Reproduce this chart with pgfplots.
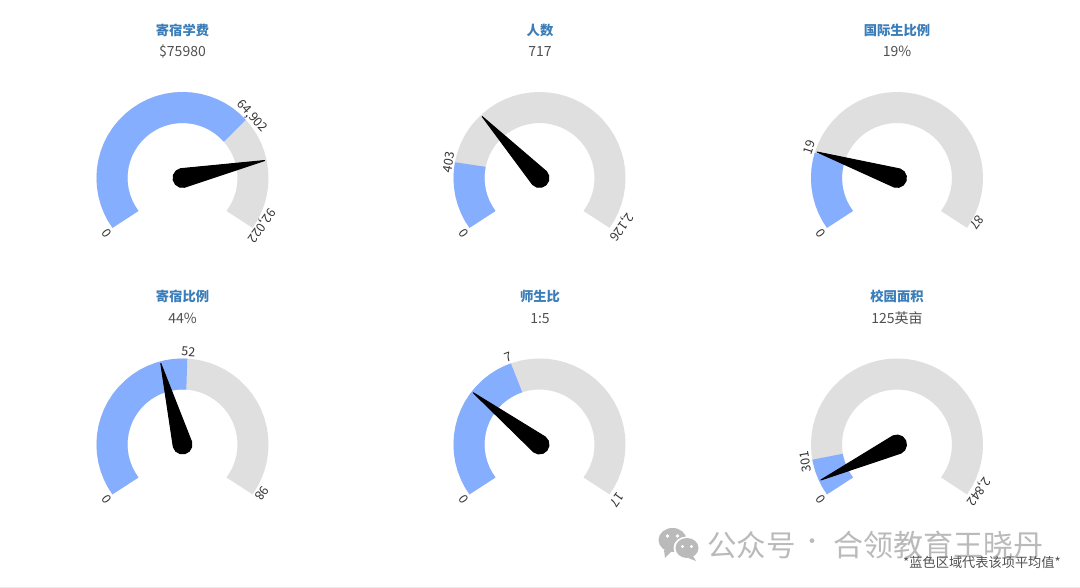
\documentclass[border=0pt]{standalone}
\usepackage{fontspec}
\setmainfont{Noto Sans CJK SC}
\usepackage{pgfplots}
\usepackage{pgfplotstable}
\pgfplotsset{compat=1.18}

\definecolor{band}{HTML}{DFDFDF}
\definecolor{avg}{HTML}{85AEFF}
\definecolor{ttl}{HTML}{3B7DB8}
\definecolor{val}{HTML}{505050}
\definecolor{wm}{HTML}{BABABA}

% full gauge track: angle, radius
\pgfplotstableread{
216 70.5
210 70.5
204 70.5
198 70.5
192 70.5
186 70.5
180 70.5
174 70.5
168 70.5
162 70.5
156 70.5
150 70.5
144 70.5
138 70.5
132 70.5
126 70.5
120 70.5
114 70.5
108 70.5
102 70.5
96 70.5
90 70.5
84 70.5
78 70.5
72 70.5
66 70.5
60 70.5
54 70.5
48 70.5
42 70.5
36 70.5
30 70.5
24 70.5
18 70.5
12 70.5
6 70.5
0 70.5
-6 70.5
-12 70.5
-18 70.5
-24 70.5
-30 70.5
-36 70.5
}\track

\pgfplotsset{
  gauge/.style={hide axis, scale only axis, width=300pt, height=300pt,
    xmin=-150, xmax=150, ymin=-150, ymax=150, clip=false, anchor=center},
  trackline/.style={no marks, data cs=polar, line width=31pt, line cap=butt, line join=round},
  needle/.style={no marks, data cs=polar, fill=black, draw=black, line width=1pt, line join=round},
}
% placement angle, radius, rotation, text
\newcommand{\glabel}[4]{\node[rotate=#3, font=\fontsize{12.5}{13}\selectfont, text=black!80] at ([shift={(#1:#2pt)}]axis cs:0,0) {#4};}

\begin{document}
\begin{tikzpicture}[x=1pt, y=1pt]
\path[use as bounding box, fill=white] (0,0) rectangle (1080,588);
\draw[black!7, line width=0.8pt] (0,0.6) -- (1080,0.6);

\begin{scope}[every node/.style={anchor=center}]
\newcommand{\ttlnode}[3]{\node[text=ttl, font=\fontsize{13.3}{14}\selectfont\bfseries] at (#1,#2) {#3};}
\newcommand{\valnode}[3]{\node[text=val, font=\fontsize{14}{15}\selectfont] at (#1,#2) {#3};}
\ttlnode{182.5}{558}{寄宿学费}
\valnode{182.5}{536.5}{\$75980}
\ttlnode{540}{558}{人数}
\valnode{540}{536.5}{717}
\ttlnode{897}{558}{国际生比例}
\valnode{897}{536.5}{19\%}
\ttlnode{182.5}{291.5}{寄宿比例}
\valnode{182.5}{269.5}{44\%}
\ttlnode{540}{291.5}{师生比}
\valnode{540}{269.5}{1:5}
\ttlnode{897}{291.5}{校园面积}
\valnode{897}{269.5}{125英亩}
\end{scope}

% row 1
\begin{axis}[gauge, at={(182.5,410)}]
\addplot[trackline, band] table[x index=0, y index=1] {\track};
\addplot[trackline, avg] coordinates {(216,70.5) (210,70.5) (204,70.5) (198,70.5) (192,70.5) (186,70.5) (180,70.5) (174,70.5) (168,70.5) (162,70.5) (156,70.5) (150,70.5) (144,70.5) (138,70.5) (132,70.5) (126,70.5) (120,70.5) (114,70.5) (108,70.5) (102,70.5) (96,70.5) (90,70.5) (84,70.5) (78,70.5) (72,70.5) (66,70.5) (60,70.5) (54,70.5) (48,70.5) (42,70.5)};
\addplot[needle] coordinates {(12,84) (102,9.5) (132,9.5) (162,9.5) (192,9.5) (222,9.5) (252,9.5) (282,9.5)} -- cycle;
\glabel{216}{94}{126}{0}
\glabel{41.5}{92.5}{-48}{64,902}
\glabel{-31}{92}{-126}{92,022}
\end{axis}

\begin{axis}[gauge, at={(539.5,410)}]
\addplot[trackline, band] table[x index=0, y index=1] {\track};
\addplot[trackline, avg] coordinates {(216,70.5) (210,70.5) (204,70.5) (198,70.5) (192,70.5) (186,70.5) (180,70.5) (174,70.5) (169,70.5)};
\addplot[needle] coordinates {(133,84) (223,9.5) (253,9.5) (283,9.5) (313,9.5) (343,9.5) (13,9.5) (43,9.5)} -- cycle;
\glabel{216}{94}{126}{0}
\glabel{170}{92}{79}{403}
\glabel{-31}{95}{-126}{2,126}
\end{axis}

\begin{axis}[gauge, at={(897,410)}]
\addplot[trackline, band] table[x index=0, y index=1] {\track};
\addplot[trackline, avg] coordinates {(216,70.5) (210,70.5) (204,70.5) (198,70.5) (192,70.5) (186,70.5) (180,70.5) (174,70.5) (168,70.5) (162.5,70.5)};
\addplot[needle] coordinates {(162,84) (252,9.5) (282,9.5) (312,9.5) (342,9.5) (12,9.5) (42,9.5) (72,9.5)} -- cycle;
\glabel{216}{94}{126}{0}
\glabel{160.7}{93}{72}{19}
\glabel{-29}{92}{-126}{87}
\end{axis}

% row 2
\begin{axis}[gauge, at={(182.5,143.5)}]
\addplot[trackline, band] table[x index=0, y index=1] {\track};
\addplot[trackline, avg] coordinates {(216,70.5) (210,70.5) (204,70.5) (198,70.5) (192,70.5) (186,70.5) (180,70.5) (174,70.5) (168,70.5) (162,70.5) (156,70.5) (150,70.5) (144,70.5) (138,70.5) (132,70.5) (126,70.5) (120,70.5) (114,70.5) (108,70.5) (102,70.5) (96,70.5) (90,70.5) (86.5,70.5)};
\addplot[needle] coordinates {(105,84) (195,9.5) (225,9.5) (255,9.5) (285,9.5) (315,9.5) (345,9.5) (15,9.5)} -- cycle;
\glabel{216}{94}{126}{0}
\glabel{86.4}{93}{-3.5}{52}
\glabel{-31.5}{93.5}{-126}{98}
\end{axis}

\begin{axis}[gauge, at={(539.5,143.5)}]
\addplot[trackline, band] table[x index=0, y index=1] {\track};
\addplot[trackline, avg] coordinates {(216,70.5) (210,70.5) (204,70.5) (198,70.5) (192,70.5) (186,70.5) (180,70.5) (174,70.5) (168,70.5) (162,70.5) (156,70.5) (150,70.5) (144,70.5) (138,70.5) (132,70.5) (126,70.5) (120,70.5) (114,70.5) (109,70.5)};
\addplot[needle] coordinates {(142,84) (232,9.5) (262,9.5) (292,9.5) (322,9.5) (352,9.5) (22,9.5) (52,9.5)} -- cycle;
\glabel{216}{94}{126}{0}
\glabel{109.5}{93}{19.5}{7}
\glabel{-35.7}{95}{-126}{17}
\end{axis}

\begin{axis}[gauge, at={(897,143.5)}]
\addplot[trackline, band] table[x index=0, y index=1] {\track};
\addplot[trackline, avg] coordinates {(216,70.5) (210,70.5) (204,70.5) (198,70.5) (192,70.5) (190,70.5)};
\addplot[needle] coordinates {(205,84) (295,9.5) (325,9.5) (355,9.5) (25,9.5) (55,9.5) (85,9.5) (115,9.5)} -- cycle;
\glabel{216}{94}{126}{0}
\glabel{190.7}{93}{100}{301}
\glabel{-30}{94}{-126}{2,842}
\end{axis}

% watermark and footnote
\fill[wm] (672.5,48) ellipse [x radius=14, y radius=12];
\fill[wm] (664,38) -- (665,30) -- (672,37) -- cycle;
\fill[white] (667.5,52) circle (1.9) (677.5,52) circle (1.9);
\fill[white] (686.5,40) ellipse [x radius=13, y radius=11.5];
\fill[wm] (687,40) ellipse [x radius=11.5, y radius=10];
\fill[wm] (693,32) -- (696,27) -- (688,30) -- cycle;
\fill[white] (682.5,41.5) circle (1.6) (691.5,41.5) circle (1.6);
\node[text=wm, font=\fontsize{29.5}{31}\selectfont] at (751.7,43) {公众号};
\node[text=wm, font=\fontsize{22}{24}\selectfont] at (812,44) {·};
\node[text=wm, font=\fontsize{30}{31}\selectfont] at (938,43) {合领教育王晓丹};
\node[text=val, font=\fontsize{13.2}{14}\selectfont] at (982,25.5) {*蓝色区域代表该项平均值*};
\end{tikzpicture}
\end{document}
